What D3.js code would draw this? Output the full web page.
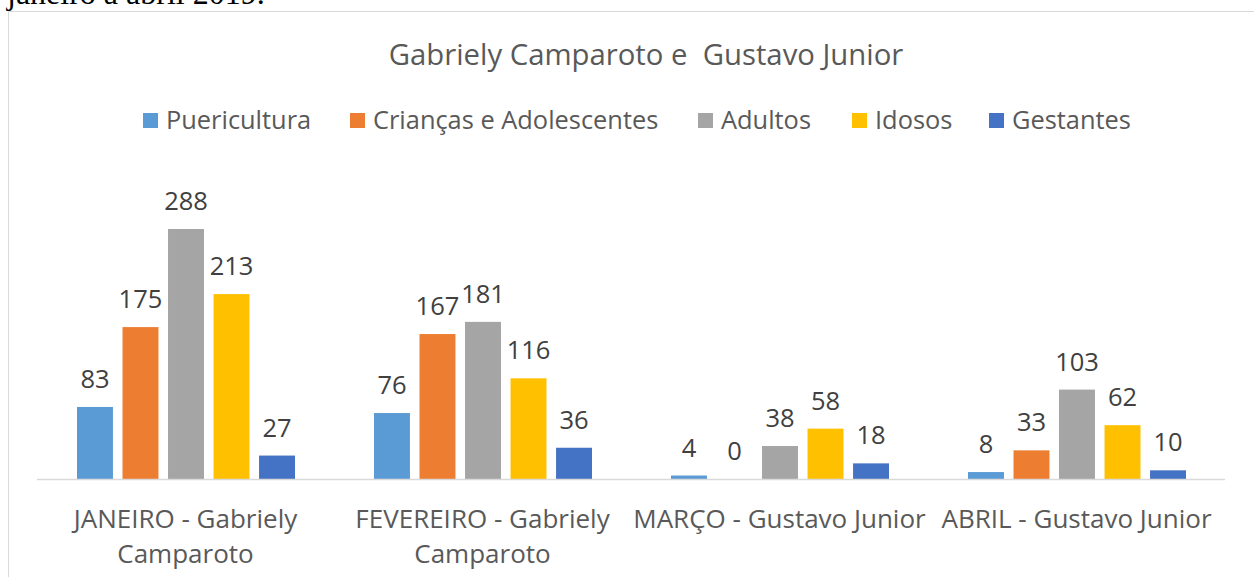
<!DOCTYPE html>
<meta charset="utf-8">
<title>Gabriely Camparoto e Gustavo Junior</title>
<style>
  body { margin: 0; background: #fff; }
  svg { display: block; }
</style>
<div id="viz"></div>
<script src="https://cdnjs.cloudflare.com/ajax/libs/d3/7.8.5/d3.min.js"></script>
<script>

var categories = [["JANEIRO - Gabriely", "Camparoto"], ["FEVEREIRO - Gabriely", "Camparoto"], ["MARÇO - Gustavo Junior"], ["ABRIL - Gustavo Junior"]];
var seriesNames = ["Puericultura", "Crianças e Adolescentes", "Adultos", "Idosos", "Gestantes"];
var colors = ["#5B9BD5", "#ED7D31", "#A5A5A5", "#FFC000", "#4472C4"];
var puericultura = [83, 76, 4, 8];
var criancas = [175, 167, 0, 33];
var adultos = [288, 181, 38, 103];
var idosos = [213, 116, 58, 62];
var gestantes = [27, 36, 18, 10];
var series = [puericultura, criancas, adultos, idosos, gestantes];

var width = 1254, height = 577;
var font = "'Open Sans', sans-serif";

var svg = d3.select("#viz").append("svg")
  .attr("width", width)
  .attr("height", height);

// caption of the document, cut off at the top
svg.append("text")
  .attr("x", 7).attr("y", 4)
  .attr("font-family", "'Liberation Serif', serif")
  .attr("font-size", 32)
  .attr("fill", "#000")
  .text("janeiro a abril 2019.");

// chart frame
svg.append("path")
  .attr("d", "M8.5," + height + "V11.5H" + width)
  .attr("fill", "none")
  .attr("stroke", "#d9d9d9");

svg.append("text")
  .attr("x", 646).attr("y", 65)
  .attr("text-anchor", "middle")
  .attr("font-family", font)
  .attr("font-size", 29.3)
  .attr("fill", "#595959")
  .style("white-space", "pre")
  .text("Gabriely Camparoto e  Gustavo Junior");

// legend
var legendX = [143, 350, 698, 852, 989];
var legend = svg.append("g").selectAll("g")
  .data(seriesNames)
  .join("g")
  .attr("transform", function(d, i) { return "translate(" + legendX[i] + ",0)"; });
legend.append("rect")
  .attr("x", 0).attr("y", 113)
  .attr("width", 15).attr("height", 15)
  .attr("fill", function(d, i) { return colors[i]; });
legend.append("text")
  .attr("x", 23).attr("y", 129)
  .attr("font-family", font)
  .attr("font-size", 25.4)
  .attr("fill", "#595959")
  .text(function(d) { return d; });

var x0 = d3.scaleBand()
  .domain(d3.range(categories.length))
  .range([37, 1225])
  .paddingInner(0)
  .paddingOuter(0);

var x1 = d3.scaleBand()
  .domain(d3.range(seriesNames.length))
  .range([40, 258])
  .paddingInner(0.21)
  .paddingOuter(0);

var y = d3.scaleLinear()
  .domain([0, 288])
  .range([479, 229]);

var groups = svg.append("g").selectAll("g")
  .data(categories)
  .join("g")
  .attr("transform", function(d, i) { return "translate(" + x0(i) + ",0)"; });

groups.each(function(c, ci) {
  var g = d3.select(this);
  var vals = series.map(function(s, si) { return { si: si, v: s[ci] }; });
  g.selectAll("rect")
    .data(vals)
    .join("rect")
    .attr("x", function(d) { return x1(d.si); })
    .attr("y", function(d) { return y(d.v); })
    .attr("width", x1.bandwidth())
    .attr("height", function(d) { return y(0) - y(d.v); })
    .attr("fill", function(d) { return colors[d.si]; });
  g.selectAll("text.val")
    .data(vals)
    .join("text")
    .attr("class", "val")
    .attr("x", function(d) { return x1(d.si) + x1.bandwidth() / 2; })
    .attr("y", function(d) { return y(d.v) - 19; })
    .attr("text-anchor", "middle")
    .attr("font-family", font)
    .attr("font-size", 25.5)
    .attr("fill", "#404040")
    .text(function(d) { return d.v; });
});

// category axis
svg.append("line")
  .attr("x1", x0.range()[0]).attr("x2", x0.range()[1])
  .attr("y1", 479.5).attr("y2", 479.5)
  .attr("stroke", "#d9d9d9")
  .attr("stroke-width", 1.5);

var labels = svg.append("g").selectAll("text")
  .data(categories)
  .join("text")
  .attr("x", function(d, i) { return x0(i) + x0.bandwidth() / 2; })
  .attr("y", 528)
  .attr("text-anchor", "middle")
  .attr("font-family", font)
  .attr("font-size", 26)
  .attr("fill", "#595959");
labels.selectAll("tspan")
  .data(function(d) { return d; })
  .join("tspan")
  .attr("x", function() { return d3.select(this.parentNode).attr("x"); })
  .attr("dy", function(d, i) { return i ? 35 : 0; })
  .text(function(d) { return d; });

</script>
